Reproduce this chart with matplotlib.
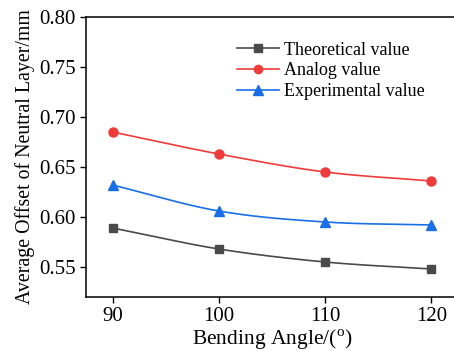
import numpy as np
import matplotlib
matplotlib.use('Agg')
import matplotlib.pyplot as plt

matplotlib.rcParams['font.family'] = 'serif'
matplotlib.rcParams['font.serif'] = ['Liberation Serif', 'DejaVu Serif']
matplotlib.rcParams['mathtext.fontset'] = 'custom'
matplotlib.rcParams['mathtext.rm'] = 'Liberation Serif'

angle = [90, 100, 110, 120]
theoretical = [0.589, 0.568, 0.555, 0.548]
analog = [0.685, 0.663, 0.645, 0.636]
experimental = [0.632, 0.606, 0.595, 0.592]


def smooth(x, y, n=60):
    # cubic hermite curve only for drawing the connecting line
    x = np.asarray(x, float)
    y = np.asarray(y, float)
    m = np.gradient(y, x)
    xs, ys = [], []
    for i in range(len(x) - 1):
        h = x[i + 1] - x[i]
        t = np.linspace(0, 1, n)
        h00 = 2 * t**3 - 3 * t**2 + 1
        h10 = t**3 - 2 * t**2 + t
        h01 = -2 * t**3 + 3 * t**2
        h11 = t**3 - t**2
        xs.append(x[i] + t * h)
        ys.append(h00 * y[i] + h10 * h * m[i] + h01 * y[i + 1] + h11 * h * m[i + 1])
    return np.concatenate(xs), np.concatenate(ys)


fig = plt.figure(figsize=(4.54, 3.51), dpi=100)
ax = fig.add_axes([86 / 454, (351 - 297) / 351, (458 - 86) / 454, (297 - 17) / 351])

series = [
    ('Theoretical value', theoretical, '#4a4a4a', 's', 6),
    ('Analog value', analog, '#ee3b3b', 'o', 6.5),
    ('Experimental value', experimental, '#1a6ee6', '^', 7.5),
]
for name, vals, c, mk, ms in series:
    xs, ys = smooth(angle, vals)
    ax.plot(xs, ys, color=c, lw=1.2)
    ax.plot(angle, vals, ls='none', marker=mk, color=c, ms=ms)
    ax.plot([], [], color=c, lw=1.2, marker=mk, ms=ms - 0.5, label=name)

ax.set_xlim(87.5, 122.5)
ax.set_ylim(0.52, 0.80)
ax.set_xticks([90, 100, 110, 120])
ax.set_yticks([0.55, 0.60, 0.65, 0.70, 0.75, 0.80])
ax.set_yticklabels(['%.2f' % v for v in [0.55, 0.60, 0.65, 0.70, 0.75, 0.80]])
ax.tick_params(direction='out', length=4, width=1, labelsize=15)
for s in ax.spines.values():
    s.set_linewidth(1.1)
ax.spines['right'].set_visible(False)

ax.set_xlabel(r'Bending Angle/(${}^{\mathrm{o}}$)', fontsize=15.5, labelpad=1)
ax.set_ylabel('Average Offset of Neutral Layer/mm', fontsize=14.3, labelpad=3)

ax.legend(loc='upper left', bbox_to_anchor=(0.363, 0.97), frameon=False,
          fontsize=13, handlelength=2.3, handletextpad=0.3, labelspacing=0.2)

fig.savefig('out.png', dpi=100)
